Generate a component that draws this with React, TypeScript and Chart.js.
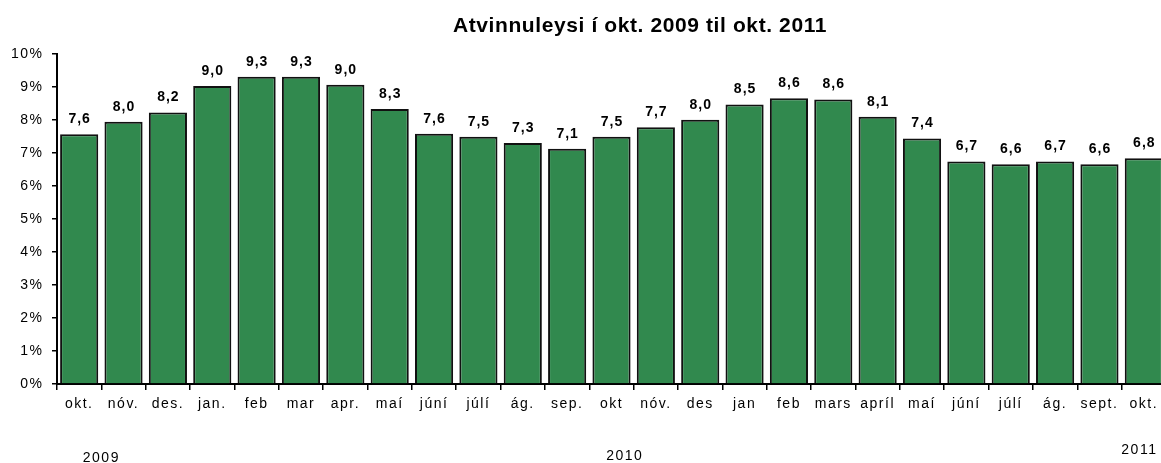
import React, { useEffect, useRef } from "react";
import { Chart, registerables } from "chart.js";

Chart.register(...registerables);

const title = "Atvinnuleysi í okt. 2009 til okt. 2011";
const categories = [
  "okt.", "nóv.", "des.", "jan.", "feb", "mar", "apr.", "maí", "júní", "júlí", "ág.", "sep.",
  "okt", "nóv.", "des", "jan", "feb", "mars", "apríl", "maí", "júní", "júlí", "ág.", "sept.", "okt.",
];
const values = [
  7.57, 7.95, 8.23, 9.03, 9.31, 9.31, 9.07, 8.33, 7.58, 7.49, 7.3, 7.13,
  7.49, 7.78, 8.01, 8.47, 8.66, 8.62, 8.1, 7.44, 6.74, 6.66, 6.74, 6.66, 6.84,
];
const valueLabels = [
  "7,6", "8,0", "8,2", "9,0", "9,3", "9,3", "9,0", "8,3", "7,6", "7,5", "7,3", "7,1",
  "7,5", "7,7", "8,0", "8,5", "8,6", "8,6", "8,1", "7,4", "6,7", "6,6", "6,7", "6,6", "6,8",
];
const years = ["2009", "2010", "2011"];
const yearPositions = [1.0, 12.8, 24.4]; // in category units from the left edge
const yearYOffsets = [74, 72, 66]; // px below x axis

const FONT = "'Liberation Sans', Arial, sans-serif";

export default function App() {
  const ref = useRef<HTMLCanvasElement>(null);

  useEffect(() => {
    document.body.style.margin = "0";
    const canvas = ref.current!;
    const labelPlugin = {
      id: "extras",
      beforeDraw(chart: any) {
        (chart.ctx as any).letterSpacing = "1.5px";
      },
      afterDraw(chart: any) {
        const ctx = chart.ctx as any;
        const xs = chart.scales.x;
        const area = chart.chartArea;
        ctx.save();
        // title
        ctx.fillStyle = "#000";
        ctx.letterSpacing = "0.6px";
        ctx.font = `bold 21px ${FONT}`;
        ctx.textAlign = "center";
        ctx.textBaseline = "middle";
        ctx.fillText(title, 640, 26);
        // data labels
        const meta = chart.getDatasetMeta(0);
        ctx.letterSpacing = "1px";
        ctx.font = `bold 14px ${FONT}`;
        ctx.textBaseline = "bottom";
        meta.data.forEach((bar: any, i: number) => {
          ctx.fillText(valueLabels[i], bar.x + 0.5, bar.y - 8);
        });
        // year labels
        ctx.letterSpacing = "1.5px";
        ctx.font = `14px ${FONT}`;
        ctx.textBaseline = "middle";
        const cw = (xs.right - xs.left) / categories.length;
        years.forEach((y, i) => {
          ctx.fillText(y, xs.left + yearPositions[i] * cw, area.bottom + yearYOffsets[i]);
        });
        ctx.restore();
      },
    };

    const chart = new Chart(canvas, {
      type: "bar",
      data: {
        labels: categories,
        datasets: [
          {
            data: values,
            backgroundColor: "rgb(49,137,78)",
            borderColor: "#111",
            borderWidth: 2,
            barPercentage: 1,
            categoryPercentage: 0.86,
          },
        ],
      },
      options: {
        responsive: false,
        animation: false,
        layout: { padding: { top: 54, right: 4, left: 0, bottom: 0 } },
        plugins: {
          legend: { display: false },
          tooltip: { enabled: false },
          title: { display: false },
        },
        scales: {
          x: {
            afterFit(scale: any) {
              scale.height = 79;
            },
            grid: {
              display: true,
              drawOnChartArea: false,
              drawTicks: true,
              tickLength: 6,
              color: "#000",
              lineWidth: 1.5,
              offset: true,
            },
            border: { display: true, color: "#000", width: 2 },
            ticks: {
              color: "#000",
              font: { family: FONT, size: 14 },
              padding: 6,
              maxRotation: 0,
              autoSkip: false,
            },
          },
          y: {
            min: 0,
            max: 10,
            afterFit(scale: any) {
              scale.width = 57;
            },
            grid: {
              display: true,
              drawOnChartArea: false,
              drawTicks: true,
              tickLength: 5,
              color: "#000",
              lineWidth: 1.5,
            },
            border: { display: true, color: "#000", width: 2 },
            ticks: {
              stepSize: 1,
              color: "#000",
              font: { family: FONT, size: 14 },
              padding: 8.5,
              callback: (v: any) => `${v}%`,
            },
          },
        },
      },
      plugins: [labelPlugin],
    });
    return () => chart.destroy();
  }, []);

  return (
    <div style={{ position: "fixed", left: 0, top: 0, width: 1161, height: 463, overflow: "hidden", background: "#fff" }}>
      <canvas ref={ref} width={1170} height={463} style={{ width: 1170, height: 463, display: "block" }} />
    </div>
  );
}
